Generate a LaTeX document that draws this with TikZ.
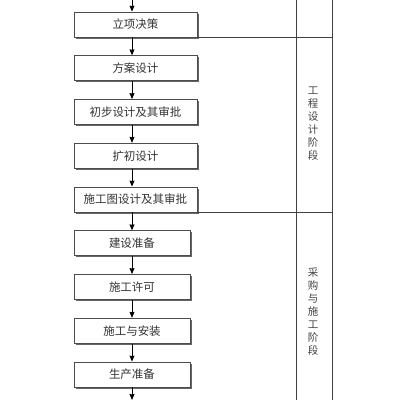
\documentclass[tikz,border=0pt]{standalone}
\usepackage{fontspec}
\newfontfamily\cjk{Noto Sans CJK SC}
\usepackage{tikz}
\usetikzlibrary{arrows.meta, shadows}
\tikzset{stage/.style={rectangle, draw=black!70, fill=white, minimum width=123pt, minimum height=25pt, inner sep=0pt, text=black!80, font=\cjk\fontsize{11.5}{12}\selectfont, drop shadow={shadow xshift=1.5pt, shadow yshift=-1.5pt, fill=black!60, opacity=1}}}
\tikzset{narrow/.style={minimum width=116pt}}
\tikzset{phase/.style={text width=12pt, align=center, inner sep=0pt, text=black!75, font=\cjk\fontsize{10.5}{13}\selectfont}}
\tikzset{rule/.style={-, draw=black!75, line width=0.7pt}}

\begin{document}
\begin{tikzpicture}[
	x=1pt, y=1pt,
	->,
	>={Stealth[length=6pt, width=5pt, inset=0.5pt]},
	line width=0.8pt,
	node distance=43.75pt,
	]
	\useasboundingbox (0,0) rectangle (400,-400);
	\coordinate (lane) at (132,0);
	\coordinate (top) at (132,0);
	\coordinate (bot) at (132,-400);
	\coordinate (colA) at (296,0);
	\coordinate (colB) at (332,0);

	\node [stage]         (lxjc) at (135.5,-24.5)  {立项决策};
	\node [stage]         (fasj) [below of=lxjc]  {方案设计};
	\node [stage]         (cbsj) [below of=fasj]  {初步设计及其审批};
	\node [stage]         (kcsj) [below of=cbsj]  {扩初设计};
	\node [stage]         (sgtsj) [below of=kcsj] {施工图设计及其审批};
	\node [stage, narrow] (jszb) [below of=sgtsj, xshift=-3.5pt] {建设准备};
	\node [stage, narrow] (sgxk) [below of=jszb]  {施工许可};
	\node [stage, narrow] (sgaz) [below of=sgxk]  {施工与安装};
	\node [stage, narrow] (sczb) [below of=sgaz]  {生产准备};

	% phase column
	\draw [rule] (colA) -- (colA |- bot);
	\draw [rule] (colB) -- (colB |- bot);
	\draw [rule] (lxjc.south east) -- (lxjc.south east -| colB);
	\draw [rule] (sgtsj.south east) -- (sgtsj.south east -| colB);
	\node [phase] (gcsj) at (313,-124) {工\\程\\设\\计\\阶\\段};
	\node [phase] (cgsg) at (313,-312) {采\\购\\与\\施\\工\\阶\\段};

	\draw (top) -- (lxjc.north -| lane);
	\draw (lxjc.south -| lane) -- (fasj.north -| lane);
	\draw (fasj.south -| lane) -- (cbsj.north -| lane);
	\draw (cbsj.south -| lane) -- (kcsj.north -| lane);
	\draw (kcsj.south -| lane) -- (sgtsj.north -| lane);
	\draw (sgtsj.south -| lane) -- (jszb.north -| lane);
	\draw (jszb.south -| lane) -- (sgxk.north -| lane);
	\draw (sgxk.south -| lane) -- (sgaz.north -| lane);
	\draw (sgaz.south -| lane) -- (sczb.north -| lane);
	\draw (sczb.south -| lane) -- (bot);
\end{tikzpicture}
\end{document}
